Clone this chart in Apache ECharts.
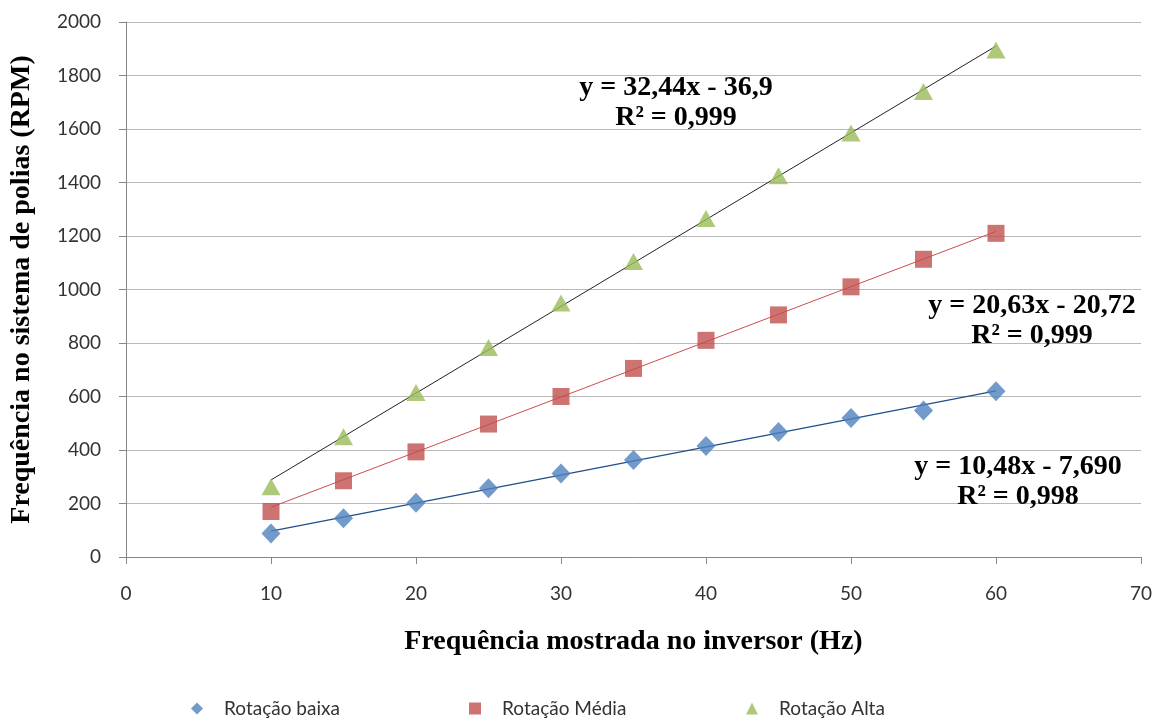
<!DOCTYPE html>
<html><head><meta charset="utf-8">
<script src="https://cdn.jsdelivr.net/npm/echarts@6/dist/echarts.min.js"></script>
<style>html,body{margin:0;padding:0;background:#fff}#c{width:1158px;height:718px}</style>
</head><body><div id="c"></div>
<script>
const freqHz = [10, 15, 20, 25, 30, 35, 40, 45, 50, 55, 60];
const rotBaixa = [88, 145, 203, 257, 312, 363, 415, 467, 520, 548, 620];
const rotMedia = [170, 285, 393, 497, 600, 705, 810, 905, 1010, 1113, 1210];
const rotAlta  = [263, 450, 615, 783, 950, 1105, 1265, 1425, 1585, 1740, 1895];
// trendline endpoints (x, y)
const trendBaixa = [[10, 97], [60, 621]];
const trendMedia = [[10, 186], [60, 1217]];
const trendAlta  = [[10, 288], [60, 1910]];
const seriesNames = ['Rotação baixa', 'Rotação Média', 'Rotação Alta'];
const eqLabels = [
  ['y = 32,44x - 36,9', 'R² = 0,999'],
  ['y = 20,63x - 20,72', 'R² = 0,999'],
  ['y = 10,48x - 7,690', 'R² = 0,998']
];
const eqPos = [[676, 88], [1032, 306], [1018, 467]];

const pts = a => freqHz.map((x, i) => [x, a[i]]);
const chart = echarts.init(document.getElementById('c'));
const serif = '"Liberation Serif", "DejaVu Serif", serif';
const lab = 'Lato, "Open Sans", sans-serif';
const graphics = [];
eqLabels.forEach((e, i) => {
  const [x, y] = eqPos[i];
  graphics.push({type: 'text', z: 100, x: x, y: y, style: {text: e[0], align: 'center', verticalAlign: 'middle', font: 'bold 28px ' + serif, fill: '#000'}});
  graphics.push({type: 'text', z: 100, x: x, y: y + 30, style: {text: e[1], align: 'center', verticalAlign: 'middle', font: 'bold 28px ' + serif, fill: '#000'}});
});
const legendLeft = [186, 464, 741];
const icons = ['diamond', 'rect', 'triangle'];
const legends = seriesNames.map((n, i) => ({
  left: legendLeft[i], top: 694, itemWidth: 12, itemHeight: 12, selectedMode: false,
  textStyle: {fontFamily: lab, fontSize: 19, color: '#333', padding: [0, 0, 0, 16]},
  data: [{name: n, icon: icons[i]}]
}));
chart.setOption({
  animation: false,
  grid: {left: 126, right: 17, top: 22, bottom: 161},
  xAxis: {
    type: 'value', min: 0, max: 70, interval: 10,
    name: 'Frequência mostrada no inversor (Hz)', nameLocation: 'middle', nameGap: 71,
    nameTextStyle: {fontFamily: serif, fontWeight: 'bold', fontSize: 28, color: '#000'},
    axisLine: {lineStyle: {color: '#868686'}},
    axisTick: {show: true, length: 7, lineStyle: {color: '#868686'}},
    axisLabel: {fontFamily: lab, fontSize: 19, color: '#333', margin: 27},
    splitLine: {show: false}
  },
  yAxis: {
    type: 'value', min: 0, max: 2000, interval: 200,
    name: 'Frequência no sistema de polias (RPM)', nameLocation: 'middle', nameGap: 90,
    nameTextStyle: {fontFamily: serif, fontWeight: 'bold', fontSize: 28, color: '#000'},
    axisLine: {show: true, lineStyle: {color: '#868686'}},
    axisTick: {show: true, length: 7, lineStyle: {color: '#868686'}},
    axisLabel: {fontFamily: lab, fontSize: 19, color: '#333', margin: 25, formatter: v => String(v)},
    splitLine: {lineStyle: {color: '#b8b8b8'}}
  },
  legend: legends,
  graphic: graphics,
  series: [
    {type: 'line', data: trendBaixa, symbol: 'none', lineStyle: {color: '#1f4e8c', width: 1.2}, silent: true, z: 1},
    {type: 'line', data: trendMedia, symbol: 'none', lineStyle: {color: '#d04a4a', width: 1}, silent: true, z: 1},
    {type: 'line', data: trendAlta, symbol: 'none', lineStyle: {color: '#222', width: 1}, silent: true, z: 1},
    {name: seriesNames[0], type: 'scatter', data: pts(rotBaixa), symbol: 'diamond', symbolSize: [19, 20], itemStyle: {color: '#4f81bd'}, z: 3},
    {name: seriesNames[1], type: 'scatter', data: pts(rotMedia), symbol: 'rect', symbolSize: 17, itemStyle: {color: '#c0504d'}, z: 3},
    {name: seriesNames[2], type: 'scatter', data: pts(rotAlta), symbol: 'triangle', symbolSize: [19, 17], itemStyle: {color: '#9bbb59'}, z: 3}
  ]
});
</script></body></html>
